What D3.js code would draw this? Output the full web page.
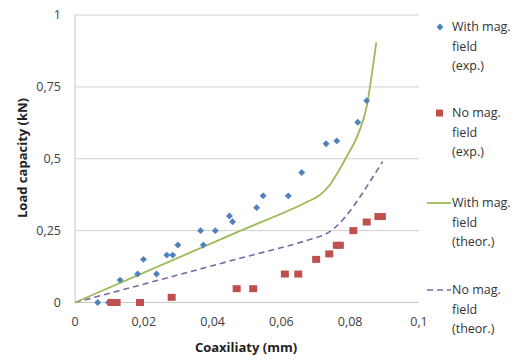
<!DOCTYPE html>
<html>
<head>
<meta charset="utf-8">
<script src="https://cdn.jsdelivr.net/npm/d3@7"></script>
<style>
  html, body { margin: 0; padding: 0; background: #fff; }
  svg { display: block; font-family: "Open Sans", "Liberation Sans", sans-serif; }
</style>
</head>
<body>
<svg id="chart" width="532" height="359"></svg>
<script>
// ---- data ----
const withMagExpX = [0.0066, 0.0097, 0.0131, 0.0182, 0.0199, 0.0237, 0.0267, 0.0284, 0.0299, 0.0365, 0.0373, 0.0408, 0.0449, 0.0458, 0.0528, 0.0547, 0.0620, 0.0659, 0.0730, 0.0761, 0.0822, 0.0848];
const withMagExpY = [0, 0, 0.078, 0.099, 0.150, 0.099, 0.165, 0.165, 0.200, 0.250, 0.200, 0.250, 0.301, 0.281, 0.330, 0.371, 0.371, 0.452, 0.552, 0.562, 0.627, 0.702];

const noMagExpX = [0.0107, 0.0121, 0.0189, 0.0281, 0.0470, 0.0518, 0.0610, 0.0649, 0.0701, 0.0739, 0.0761, 0.0770, 0.0809, 0.0848, 0.0882, 0.0892];
const noMagExpY = [0, 0, 0, 0.018, 0.048, 0.048, 0.099, 0.099, 0.150, 0.169, 0.199, 0.199, 0.250, 0.280, 0.299, 0.299];

const withMagTheorX = [0, 0.0480, 0.0680, 0.0710, 0.0740, 0.0765, 0.0790, 0.0824, 0.0848, 0.0860, 0.0876];
const withMagTheorY = [0, 0.249, 0.353, 0.372, 0.408, 0.455, 0.508, 0.589, 0.682, 0.770, 0.905];

const noMagTheorX = [0, 0.0480, 0.0690, 0.0727, 0.0761, 0.0809, 0.0848, 0.0894];
const noMagTheorY = [0, 0.154, 0.222, 0.237, 0.266, 0.334, 0.403, 0.490];

const xTicks = [0, 0.02, 0.04, 0.06, 0.08, 0.1];
const xTickLabels = ["0", "0,02", "0,04", "0,06", "0,08", "0,1"];
const yTicks = [0, 0.25, 0.5, 0.75, 1];
const yTickLabels = ["0", "0,25", "0,5", "0,75", "1"];

const legendLabels = [
  ["With mag.", "field", "(exp.)"],
  ["No mag.", "field", "(exp.)"],
  ["With mag.", "field", "(theor.)"],
  ["No mag.", "field", "(theor.)"]
];
const colors = { blue: "#4F81BD", red: "#C0504D", green: "#9BBB59", purple: "#8064A2" };

// ---- chart ----
const svg = d3.select("#chart");
const x = d3.scaleLinear().domain([0, 0.1]).range([75, 419]);
const y = d3.scaleLinear().domain([0, 1]).range([302.5, 15]);

// gridlines
svg.append("g").selectAll("line").data(yTicks.filter(d => d > 0)).join("line")
  .attr("x1", x(0)).attr("x2", x(0.1))
  .attr("y1", d => y(d)).attr("y2", d => y(d))
  .attr("stroke", "#D0D0D0").attr("stroke-width", 1);

// axes lines
svg.append("line").attr("x1", x(0)).attr("x2", x(0.1)).attr("y1", y(0)).attr("y2", y(0))
  .attr("stroke", "#C8C8C8").attr("stroke-width", 1);
svg.append("line").attr("x1", x(0)).attr("x2", x(0)).attr("y1", y(0)).attr("y2", y(1))
  .attr("stroke", "#C8C8C8").attr("stroke-width", 1);

// tick labels
svg.append("g").selectAll("text").data(yTicks).join("text")
  .attr("x", 61).attr("y", d => y(d)).attr("dy", "0.35em")
  .attr("text-anchor", "end").attr("font-size", 12.5).attr("fill", "#404040")
  .text((d, i) => yTickLabels[i]);
svg.append("g").selectAll("text").data(xTicks).join("text")
  .attr("x", d => x(d)).attr("y", 322).attr("dy", "0.35em")
  .attr("text-anchor", "middle").attr("font-size", 12.5).attr("fill", "#404040")
  .text((d, i) => xTickLabels[i]);

// axis titles
svg.append("text").attr("x", 246).attr("y", 347).attr("dy", "0.35em")
  .attr("text-anchor", "middle").attr("font-size", 13).attr("font-weight", "bold").attr("fill", "#222")
  .text("Coaxiliaty (mm)");
svg.append("text").attr("transform", "translate(22,158) rotate(-90)").attr("dy", "0.35em")
  .attr("text-anchor", "middle").attr("font-size", 13).attr("font-weight", "bold").attr("fill", "#222")
  .text("Load capacity (kN)");

// theoretical lines
const line = d3.line().x(d => x(d[0])).y(d => y(d[1])).curve(d3.curveMonotoneX);
svg.append("path").datum(noMagTheorX.map((v, i) => [v, noMagTheorY[i]]))
  .attr("d", line).attr("fill", "none").attr("stroke", colors.purple)
  .attr("stroke-width", 1.6).attr("stroke-dasharray", "6,4");
svg.append("path").datum(withMagTheorX.map((v, i) => [v, withMagTheorY[i]]))
  .attr("d", line).attr("fill", "none").attr("stroke", colors.green).attr("stroke-width", 1.8);

// experimental points
const diamond = d3.symbol().type(d3.symbolDiamond2 || d3.symbolDiamond).size(30);
svg.append("g").selectAll("path").data(withMagExpX.map((v, i) => [v, withMagExpY[i]])).join("path")
  .attr("transform", d => `translate(${x(d[0])},${y(d[1])})`)
  .attr("d", diamond).attr("fill", colors.blue);
svg.append("g").selectAll("rect").data(noMagExpX.map((v, i) => [v, noMagExpY[i]])).join("rect")
  .attr("x", d => x(d[0]) - 4).attr("y", d => y(d[1]) - 3.5)
  .attr("width", 8).attr("height", 7).attr("fill", colors.red);

// legend
const legendY = [27, 113, 203, 290];
const lg = svg.append("g");
legendLabels.forEach((lines, k) => {
  lines.forEach((t, j) => {
    lg.append("text").attr("x", 452).attr("y", legendY[k] + j * 19.5).attr("dy", "0.35em")
      .attr("font-size", 12.5).attr("fill", "#333").text(t);
  });
});
lg.append("path").attr("transform", `translate(440,${legendY[0]})`).attr("d", diamond).attr("fill", colors.blue);
lg.append("rect").attr("x", 436).attr("y", legendY[1] - 3.5).attr("width", 7).attr("height", 7).attr("fill", colors.red);
lg.append("line").attr("x1", 427).attr("x2", 451).attr("y1", legendY[2]).attr("y2", legendY[2])
  .attr("stroke", colors.green).attr("stroke-width", 1.8);
lg.append("line").attr("x1", 427).attr("x2", 451).attr("y1", legendY[3]).attr("y2", legendY[3])
  .attr("stroke", colors.purple).attr("stroke-width", 1.6).attr("stroke-dasharray", "6,4");
</script>
</body>
</html>
